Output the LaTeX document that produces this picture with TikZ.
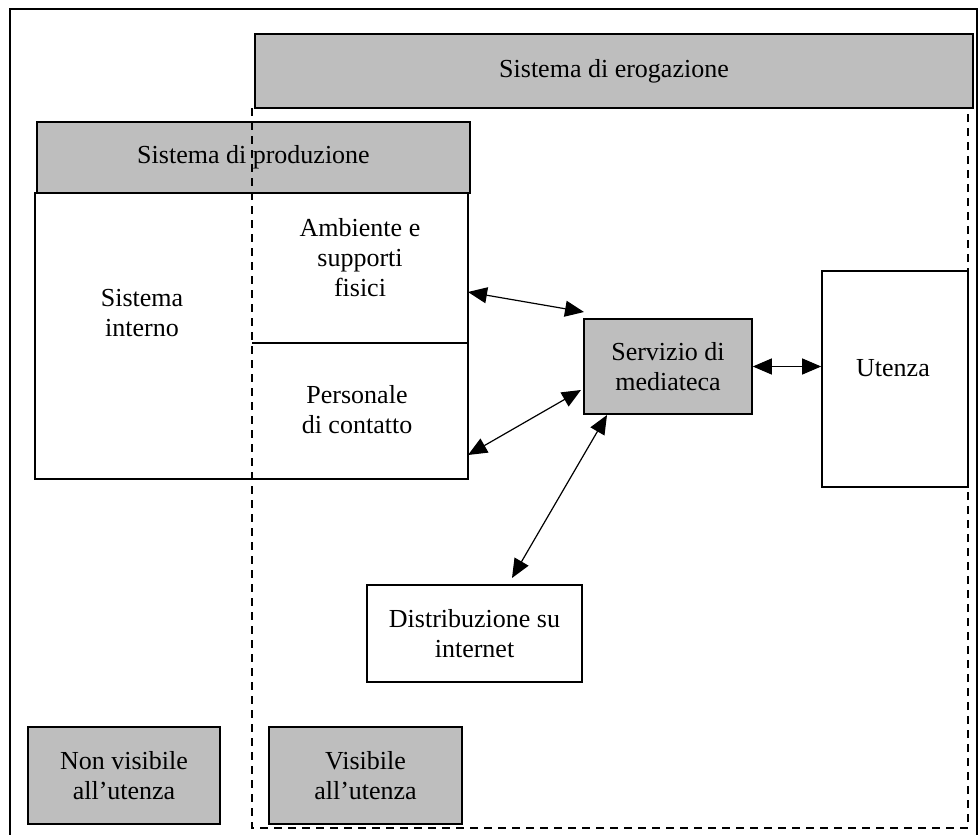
\documentclass[tikz,border=0pt]{standalone}
\usepackage{fontspec}
\setmainfont{Liberation Serif}
\usetikzlibrary{arrows.meta}
\definecolor{shade}{RGB}{190,190,190}
\begin{document}
\begin{tikzpicture}[x=1pt,y=-1pt,
  every node/.style={font=\fontsize{26}{30}\selectfont, inner sep=0pt, align=center},
  box/.style={draw=black, line width=1.6pt, rectangle},
  grey/.style={box, fill=shade},
  dashline/.style={draw=black, line width=1.6pt, dash pattern=on 8pt off 6pt},
  link/.style={line width=1.2pt, {Triangle[length=19pt,width=16pt]}-{Triangle[length=19pt,width=16pt]}}
]
\useasboundingbox (0,0) rectangle (978,835);
% outer frame
\draw[line width=1.6pt] (10,835) -- (10,9) -- (977,9) -- (977,835);

% Sistema di erogazione
\node[grey, minimum width=718pt, minimum height=74pt] (erog) at (614,71) {Sistema di erogazione};

% Sistema di produzione
\node[grey, minimum width=433pt, minimum height=71pt] (prodh) at (253.5,157.5) {Sistema di produzione};
\node[box, minimum width=433pt, minimum height=286pt] (prodb) at (251.5,336) {};
\draw[line width=1.6pt] (252,343) -- (prodb.east |- 0,343);
\node (interno) at (142,313) {Sistema\\interno};
\node (ambiente) at (360,258) {Ambiente e\\supporti\\fisici};
\node (personale) at (357,410) {Personale\\di contatto};

% dashed boundary of the erogazione system (drawn over the production box)
\draw[dashline] (252,108) -- (252,828) -- (968,828) -- (968,108);

% Servizio di mediateca
\node[grey, minimum width=168pt, minimum height=95pt] (serv) at (668,366.5) {Servizio di\\mediateca};

% Utenza
\node[box, minimum width=146pt, minimum height=216pt] (uten) at (895,379) {};
\node (utext) at (893,368) {Utenza};

% Distribuzione su internet
\node[box, minimum width=215pt, minimum height=97pt] (distr) at (474.5,633.5) {Distribuzione su\\internet};

% legend boxes
\node[grey, minimum width=192pt, minimum height=97pt] (nonvis) at (124,775.5) {Non visibile\\all'utenza};
\node[grey, minimum width=193pt, minimum height=97pt] (vis) at (365.5,775.5) {Visibile\\all'utenza};

% connector ends
\coordinate (c1a) at (468,292);
\coordinate (c1b) at (584,312);
\coordinate (c2a) at (468,455);
\coordinate (c2b) at (581,390);
\coordinate (c3a) at (512,578);
\coordinate (c3b) at (607,415);

\draw[link] (c1a) -- (c1b);
\draw[link] (c2a) -- (c2b);
\draw[link] (c3a) -- (c3b);
\draw[link] (serv.east) -- (uten.west |- serv.east);
\end{tikzpicture}
\end{document}
